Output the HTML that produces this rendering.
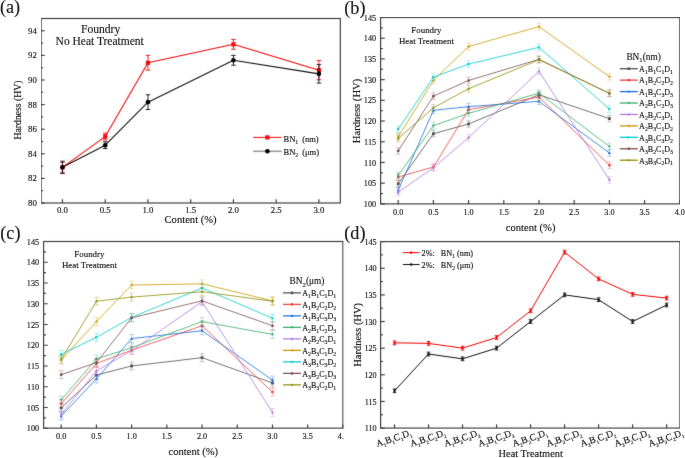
<!DOCTYPE html><html><head><meta charset="utf-8"><style>html,body{margin:0;padding:0;background:#fff;width:685px;height:458px;overflow:hidden}svg{display:block}text{stroke:#111;stroke-width:0.14px}</style></head><body>
<svg width="685" height="458" viewBox="0 0 685 458" font-family="'Liberation Serif', serif" fill="#111">
<defs><filter id="bl" x="0" y="0" width="1" height="1" color-interpolation-filters="sRGB"><feConvolveMatrix order="3" kernelMatrix="0.0081 0.0738 0.0081 0.0738 0.6724 0.0738 0.0081 0.0738 0.0081" divisor="1" edgeMode="none"/></filter></defs><rect width="685" height="458" fill="#fff"/><g filter="url(#bl)">
<rect x="41.1" y="18.5" width="299.2" height="184.5" fill="none" stroke="#3a3a3a" stroke-width="1.15"/>
<line x1="41.1" y1="203" x2="44.7" y2="203" stroke="#3a3a3a" stroke-width="1.15"/>
<line x1="41.1" y1="178.4" x2="44.7" y2="178.4" stroke="#3a3a3a" stroke-width="1.15"/>
<line x1="41.1" y1="153.8" x2="44.7" y2="153.8" stroke="#3a3a3a" stroke-width="1.15"/>
<line x1="41.1" y1="129.2" x2="44.7" y2="129.2" stroke="#3a3a3a" stroke-width="1.15"/>
<line x1="41.1" y1="104.6" x2="44.7" y2="104.6" stroke="#3a3a3a" stroke-width="1.15"/>
<line x1="41.1" y1="80" x2="44.7" y2="80" stroke="#3a3a3a" stroke-width="1.15"/>
<line x1="41.1" y1="55.4" x2="44.7" y2="55.4" stroke="#3a3a3a" stroke-width="1.15"/>
<line x1="41.1" y1="30.8" x2="44.7" y2="30.8" stroke="#3a3a3a" stroke-width="1.15"/>
<line x1="41.1" y1="190.7" x2="43.1" y2="190.7" stroke="#3a3a3a" stroke-width="1.15"/>
<line x1="41.1" y1="166.1" x2="43.1" y2="166.1" stroke="#3a3a3a" stroke-width="1.15"/>
<line x1="41.1" y1="141.5" x2="43.1" y2="141.5" stroke="#3a3a3a" stroke-width="1.15"/>
<line x1="41.1" y1="116.9" x2="43.1" y2="116.9" stroke="#3a3a3a" stroke-width="1.15"/>
<line x1="41.1" y1="92.3" x2="43.1" y2="92.3" stroke="#3a3a3a" stroke-width="1.15"/>
<line x1="41.1" y1="67.7" x2="43.1" y2="67.7" stroke="#3a3a3a" stroke-width="1.15"/>
<line x1="41.1" y1="43.1" x2="43.1" y2="43.1" stroke="#3a3a3a" stroke-width="1.15"/>
<line x1="62.47" y1="203" x2="62.47" y2="199.2" stroke="#3a3a3a" stroke-width="1.15"/>
<line x1="105.21" y1="203" x2="105.21" y2="199.2" stroke="#3a3a3a" stroke-width="1.15"/>
<line x1="147.96" y1="203" x2="147.96" y2="199.2" stroke="#3a3a3a" stroke-width="1.15"/>
<line x1="190.7" y1="203" x2="190.7" y2="199.2" stroke="#3a3a3a" stroke-width="1.15"/>
<line x1="233.44" y1="203" x2="233.44" y2="199.2" stroke="#3a3a3a" stroke-width="1.15"/>
<line x1="276.19" y1="203" x2="276.19" y2="199.2" stroke="#3a3a3a" stroke-width="1.15"/>
<line x1="318.93" y1="203" x2="318.93" y2="199.2" stroke="#3a3a3a" stroke-width="1.15"/>
<polyline points="62.47,167.33 105.21,136.58 147.96,62.78 233.44,44.33 318.93,70.16" fill="none" stroke="#f80808" stroke-width="1.1" stroke-linejoin="round" opacity="1"/>
<polyline points="62.47,167.33 105.21,145.19 147.96,102.14 233.44,60.32 318.93,73.85" fill="none" stroke="#111" stroke-width="1.1" stroke-linejoin="round" opacity="1"/>
<path d="M62.47,162.41V172.25M60.17,162.41h4.6M60.17,172.25h4.6" stroke="#f80808" stroke-width="0.9" fill="none" opacity="1"/>
<rect x="60.37" y="165.23" width="4.2" height="4.2" fill="#f80808"/>
<path d="M105.21,133.26V139.9M102.91,133.26h4.6M102.91,139.9h4.6" stroke="#f80808" stroke-width="0.9" fill="none" opacity="1"/>
<rect x="103.11" y="134.48" width="4.2" height="4.2" fill="#f80808"/>
<path d="M147.96,55.4V70.16M145.66,55.4h4.6M145.66,70.16h4.6" stroke="#f80808" stroke-width="0.9" fill="none" opacity="1"/>
<rect x="145.86" y="60.68" width="4.2" height="4.2" fill="#f80808"/>
<path d="M233.44,39.41V49.25M231.14,39.41h4.6M231.14,49.25h4.6" stroke="#f80808" stroke-width="0.9" fill="none" opacity="1"/>
<rect x="231.34" y="42.23" width="4.2" height="4.2" fill="#f80808"/>
<path d="M318.93,60.57V79.75M316.63,60.57h4.6M316.63,79.75h4.6" stroke="#f80808" stroke-width="0.9" fill="none" opacity="1"/>
<rect x="316.83" y="68.06" width="4.2" height="4.2" fill="#f80808"/>
<path d="M62.47,161.18V173.48M60.17,161.18h4.6M60.17,173.48h4.6" stroke="#111" stroke-width="0.9" fill="none" opacity="1"/>
<circle cx="62.47" cy="167.33" r="2.3" fill="#000"/>
<path d="M105.21,141.75V148.63M102.91,141.75h4.6M102.91,148.63h4.6" stroke="#111" stroke-width="0.9" fill="none" opacity="1"/>
<circle cx="105.21" cy="145.19" r="2.3" fill="#000"/>
<path d="M147.96,94.76V109.52M145.66,94.76h4.6M145.66,109.52h4.6" stroke="#111" stroke-width="0.9" fill="none" opacity="1"/>
<circle cx="147.96" cy="102.14" r="2.3" fill="#000"/>
<path d="M233.44,55.4V65.24M231.14,55.4h4.6M231.14,65.24h4.6" stroke="#111" stroke-width="0.9" fill="none" opacity="1"/>
<circle cx="233.44" cy="60.32" r="2.3" fill="#000"/>
<path d="M318.93,64.62V83.08M316.63,64.62h4.6M316.63,83.08h4.6" stroke="#111" stroke-width="0.9" fill="none" opacity="1"/>
<circle cx="318.93" cy="73.85" r="2.3" fill="#000"/>
<line x1="253.1" y1="137.4" x2="281.6" y2="137.4" stroke="#f80808" stroke-width="1"/>
<rect x="265.3" y="135.3" width="4.2" height="4.2" fill="#f80808"/>
<line x1="253.1" y1="151.3" x2="281.6" y2="151.3" stroke="#9a9a9a" stroke-width="1.6"/>
<circle cx="267.4" cy="151.3" r="2.3" fill="#000"/>
<rect x="380.6" y="17.5" width="299.2" height="186.4" fill="none" stroke="#3a3a3a" stroke-width="1.15"/>
<line x1="380.6" y1="203.9" x2="384.8" y2="203.9" stroke="#3a3a3a" stroke-width="1.15"/>
<line x1="380.6" y1="183.19" x2="384.8" y2="183.19" stroke="#3a3a3a" stroke-width="1.15"/>
<line x1="380.6" y1="162.48" x2="384.8" y2="162.48" stroke="#3a3a3a" stroke-width="1.15"/>
<line x1="380.6" y1="141.77" x2="384.8" y2="141.77" stroke="#3a3a3a" stroke-width="1.15"/>
<line x1="380.6" y1="121.06" x2="384.8" y2="121.06" stroke="#3a3a3a" stroke-width="1.15"/>
<line x1="380.6" y1="100.34" x2="384.8" y2="100.34" stroke="#3a3a3a" stroke-width="1.15"/>
<line x1="380.6" y1="79.63" x2="384.8" y2="79.63" stroke="#3a3a3a" stroke-width="1.15"/>
<line x1="380.6" y1="58.92" x2="384.8" y2="58.92" stroke="#3a3a3a" stroke-width="1.15"/>
<line x1="380.6" y1="38.21" x2="384.8" y2="38.21" stroke="#3a3a3a" stroke-width="1.15"/>
<line x1="380.6" y1="17.5" x2="384.8" y2="17.5" stroke="#3a3a3a" stroke-width="1.15"/>
<line x1="380.6" y1="193.54" x2="382.9" y2="193.54" stroke="#3a3a3a" stroke-width="1.15"/>
<line x1="380.6" y1="172.83" x2="382.9" y2="172.83" stroke="#3a3a3a" stroke-width="1.15"/>
<line x1="380.6" y1="152.12" x2="382.9" y2="152.12" stroke="#3a3a3a" stroke-width="1.15"/>
<line x1="380.6" y1="131.41" x2="382.9" y2="131.41" stroke="#3a3a3a" stroke-width="1.15"/>
<line x1="380.6" y1="110.7" x2="382.9" y2="110.7" stroke="#3a3a3a" stroke-width="1.15"/>
<line x1="380.6" y1="89.99" x2="382.9" y2="89.99" stroke="#3a3a3a" stroke-width="1.15"/>
<line x1="380.6" y1="69.28" x2="382.9" y2="69.28" stroke="#3a3a3a" stroke-width="1.15"/>
<line x1="380.6" y1="48.57" x2="382.9" y2="48.57" stroke="#3a3a3a" stroke-width="1.15"/>
<line x1="380.6" y1="27.86" x2="382.9" y2="27.86" stroke="#3a3a3a" stroke-width="1.15"/>
<line x1="398.2" y1="203.9" x2="398.2" y2="200.1" stroke="#3a3a3a" stroke-width="1.15"/>
<line x1="433.4" y1="203.9" x2="433.4" y2="200.1" stroke="#3a3a3a" stroke-width="1.15"/>
<line x1="468.6" y1="203.9" x2="468.6" y2="200.1" stroke="#3a3a3a" stroke-width="1.15"/>
<line x1="503.8" y1="203.9" x2="503.8" y2="200.1" stroke="#3a3a3a" stroke-width="1.15"/>
<line x1="539" y1="203.9" x2="539" y2="200.1" stroke="#3a3a3a" stroke-width="1.15"/>
<line x1="574.2" y1="203.9" x2="574.2" y2="200.1" stroke="#3a3a3a" stroke-width="1.15"/>
<line x1="609.4" y1="203.9" x2="609.4" y2="200.1" stroke="#3a3a3a" stroke-width="1.15"/>
<line x1="644.6" y1="203.9" x2="644.6" y2="200.1" stroke="#3a3a3a" stroke-width="1.15"/>
<line x1="679.8" y1="203.9" x2="679.8" y2="200.1" stroke="#3a3a3a" stroke-width="1.15"/>
<polyline points="398.2,183.81 433.4,133.69 468.6,123.96 539,94.75 609.4,118.57" fill="none" stroke="#515151" stroke-width="0.8" stroke-linejoin="round" opacity="1"/>
<polyline points="398.2,176.98 433.4,167.03 468.6,109.66 539,97.03 609.4,165.17" fill="none" stroke="#F14040" stroke-width="0.8" stroke-linejoin="round" opacity="1"/>
<polyline points="398.2,190.23 433.4,110.29 468.6,106.68 539,101.34 609.4,152.95" fill="none" stroke="#1A6FDF" stroke-width="0.8" stroke-linejoin="round" opacity="1"/>
<polyline points="398.2,175.53 433.4,125.61 468.6,113.39 539,93.14 609.4,146.53" fill="none" stroke="#37AD6B" stroke-width="0.8" stroke-linejoin="round" opacity="1"/>
<polyline points="398.2,192.3 433.4,167.66 468.6,137.62 539,71.35 609.4,179.88" fill="none" stroke="#B177DE" stroke-width="0.8" stroke-linejoin="round" opacity="1"/>
<polyline points="398.2,136.8 433.4,80.46 468.6,46.5 539,26.61 609.4,76.73" fill="none" stroke="#CC9900" stroke-width="0.8" stroke-linejoin="round" opacity="1"/>
<polyline points="398.2,129.34 433.4,77.15 468.6,64.1 539,47.32 609.4,109.04" fill="none" stroke="#00CBCC" stroke-width="0.8" stroke-linejoin="round" opacity="1"/>
<polyline points="398.2,150.88 433.4,96.2 468.6,80.46 539,59.34 609.4,93.3" fill="none" stroke="#7D4E4E" stroke-width="0.8" stroke-linejoin="round" opacity="1"/>
<polyline points="398.2,138.45 433.4,107.8 468.6,88.75 539,59.75 609.4,93.3" fill="none" stroke="#8E8E00" stroke-width="0.8" stroke-linejoin="round" opacity="1"/>
<path d="M398.2,180.5V187.12M395.9,180.5h4.6M395.9,187.12h4.6" stroke="#515151" stroke-width="0.7" fill="none" opacity="0.45"/>
<rect x="396.8" y="182.41" width="2.8" height="2.8" fill="#515151"/>
<path d="M433.4,130.38V137M431.1,130.38h4.6M431.1,137h4.6" stroke="#515151" stroke-width="0.7" fill="none" opacity="0.45"/>
<rect x="432" y="132.29" width="2.8" height="2.8" fill="#515151"/>
<path d="M468.6,120.64V127.27M466.3,120.64h4.6M466.3,127.27h4.6" stroke="#515151" stroke-width="0.7" fill="none" opacity="0.45"/>
<rect x="467.2" y="122.56" width="2.8" height="2.8" fill="#515151"/>
<path d="M539,91.44V98.07M536.7,91.44h4.6M536.7,98.07h4.6" stroke="#515151" stroke-width="0.7" fill="none" opacity="0.45"/>
<rect x="537.6" y="93.35" width="2.8" height="2.8" fill="#515151"/>
<path d="M609.4,115.26V121.88M607.1,115.26h4.6M607.1,121.88h4.6" stroke="#515151" stroke-width="0.7" fill="none" opacity="0.45"/>
<rect x="608" y="117.17" width="2.8" height="2.8" fill="#515151"/>
<path d="M398.2,173.66V180.29M395.9,173.66h4.6M395.9,180.29h4.6" stroke="#F14040" stroke-width="0.7" fill="none" opacity="0.45"/>
<circle cx="398.2" cy="176.98" r="1.4" fill="#F14040"/>
<path d="M433.4,163.72V170.35M431.1,163.72h4.6M431.1,170.35h4.6" stroke="#F14040" stroke-width="0.7" fill="none" opacity="0.45"/>
<circle cx="433.4" cy="167.03" r="1.4" fill="#F14040"/>
<path d="M468.6,106.35V112.98M466.3,106.35h4.6M466.3,112.98h4.6" stroke="#F14040" stroke-width="0.7" fill="none" opacity="0.45"/>
<circle cx="468.6" cy="109.66" r="1.4" fill="#F14040"/>
<path d="M539,93.72V100.34M536.7,93.72h4.6M536.7,100.34h4.6" stroke="#F14040" stroke-width="0.7" fill="none" opacity="0.45"/>
<circle cx="539" cy="97.03" r="1.4" fill="#F14040"/>
<path d="M609.4,161.86V168.48M607.1,161.86h4.6M607.1,168.48h4.6" stroke="#F14040" stroke-width="0.7" fill="none" opacity="0.45"/>
<circle cx="609.4" cy="165.17" r="1.4" fill="#F14040"/>
<path d="M398.2,186.92V193.54M395.9,186.92h4.6M395.9,193.54h4.6" stroke="#1A6FDF" stroke-width="0.7" fill="none" opacity="0.45"/>
<path d="M398.2,188.55L399.74,191.35L396.66,191.35Z" fill="#1A6FDF"/>
<path d="M433.4,106.97V113.6M431.1,106.97h4.6M431.1,113.6h4.6" stroke="#1A6FDF" stroke-width="0.7" fill="none" opacity="0.45"/>
<path d="M433.4,108.61L434.94,111.41L431.86,111.41Z" fill="#1A6FDF"/>
<path d="M468.6,103.37V110M466.3,103.37h4.6M466.3,110h4.6" stroke="#1A6FDF" stroke-width="0.7" fill="none" opacity="0.45"/>
<path d="M468.6,105L470.14,107.8L467.06,107.8Z" fill="#1A6FDF"/>
<path d="M539,98.02V104.65M536.7,98.02h4.6M536.7,104.65h4.6" stroke="#1A6FDF" stroke-width="0.7" fill="none" opacity="0.45"/>
<path d="M539,99.66L540.54,102.46L537.46,102.46Z" fill="#1A6FDF"/>
<path d="M609.4,149.64V156.26M607.1,149.64h4.6M607.1,156.26h4.6" stroke="#1A6FDF" stroke-width="0.7" fill="none" opacity="0.45"/>
<path d="M609.4,151.27L610.94,154.07L607.86,154.07Z" fill="#1A6FDF"/>
<path d="M398.2,172.21V178.84M395.9,172.21h4.6M395.9,178.84h4.6" stroke="#37AD6B" stroke-width="0.7" fill="none" opacity="0.45"/>
<path d="M398.2,177.21L399.74,174.41L396.66,174.41Z" fill="#37AD6B"/>
<path d="M433.4,122.3V128.93M431.1,122.3h4.6M431.1,128.93h4.6" stroke="#37AD6B" stroke-width="0.7" fill="none" opacity="0.45"/>
<path d="M433.4,127.29L434.94,124.49L431.86,124.49Z" fill="#37AD6B"/>
<path d="M468.6,110.08V116.71M466.3,110.08h4.6M466.3,116.71h4.6" stroke="#37AD6B" stroke-width="0.7" fill="none" opacity="0.45"/>
<path d="M468.6,115.07L470.14,112.27L467.06,112.27Z" fill="#37AD6B"/>
<path d="M539,89.82V96.45M536.7,89.82h4.6M536.7,96.45h4.6" stroke="#37AD6B" stroke-width="0.7" fill="none" opacity="0.45"/>
<path d="M539,94.82L540.54,92.02L537.46,92.02Z" fill="#37AD6B"/>
<path d="M609.4,143.22V149.84M607.1,143.22h4.6M607.1,149.84h4.6" stroke="#37AD6B" stroke-width="0.7" fill="none" opacity="0.45"/>
<path d="M609.4,148.21L610.94,145.41L607.86,145.41Z" fill="#37AD6B"/>
<path d="M398.2,188.99V195.62M395.9,188.99h4.6M395.9,195.62h4.6" stroke="#B177DE" stroke-width="0.7" fill="none" opacity="0.45"/>
<path d="M398.2,190.62L399.6,192.3L398.2,193.98L396.8,192.3Z" fill="#B177DE"/>
<path d="M433.4,164.34V170.97M431.1,164.34h4.6M431.1,170.97h4.6" stroke="#B177DE" stroke-width="0.7" fill="none" opacity="0.45"/>
<path d="M433.4,165.98L434.8,167.66L433.4,169.34L432,167.66Z" fill="#B177DE"/>
<path d="M468.6,134.31V140.94M466.3,134.31h4.6M466.3,140.94h4.6" stroke="#B177DE" stroke-width="0.7" fill="none" opacity="0.45"/>
<path d="M468.6,135.94L470,137.62L468.6,139.3L467.2,137.62Z" fill="#B177DE"/>
<path d="M539,68.04V74.66M536.7,68.04h4.6M536.7,74.66h4.6" stroke="#B177DE" stroke-width="0.7" fill="none" opacity="0.45"/>
<path d="M539,69.67L540.4,71.35L539,73.03L537.6,71.35Z" fill="#B177DE"/>
<path d="M609.4,176.56V183.19M607.1,176.56h4.6M607.1,183.19h4.6" stroke="#B177DE" stroke-width="0.7" fill="none" opacity="0.45"/>
<path d="M609.4,178.2L610.8,179.88L609.4,181.56L608,179.88Z" fill="#B177DE"/>
<path d="M398.2,133.48V140.11M395.9,133.48h4.6M395.9,140.11h4.6" stroke="#CC9900" stroke-width="0.7" fill="none" opacity="0.45"/>
<path d="M396.52,136.8L399.32,135.26L399.32,138.34Z" fill="#CC9900"/>
<path d="M433.4,77.15V83.78M431.1,77.15h4.6M431.1,83.78h4.6" stroke="#CC9900" stroke-width="0.7" fill="none" opacity="0.45"/>
<path d="M431.72,80.46L434.52,78.92L434.52,82Z" fill="#CC9900"/>
<path d="M468.6,43.18V49.81M466.3,43.18h4.6M466.3,49.81h4.6" stroke="#CC9900" stroke-width="0.7" fill="none" opacity="0.45"/>
<path d="M466.92,46.5L469.72,44.96L469.72,48.04Z" fill="#CC9900"/>
<path d="M539,23.3V29.93M536.7,23.3h4.6M536.7,29.93h4.6" stroke="#CC9900" stroke-width="0.7" fill="none" opacity="0.45"/>
<path d="M537.32,26.61L540.12,25.07L540.12,28.15Z" fill="#CC9900"/>
<path d="M609.4,73.42V80.05M607.1,73.42h4.6M607.1,80.05h4.6" stroke="#CC9900" stroke-width="0.7" fill="none" opacity="0.45"/>
<path d="M607.72,76.73L610.52,75.19L610.52,78.27Z" fill="#CC9900"/>
<path d="M398.2,126.03V132.65M395.9,126.03h4.6M395.9,132.65h4.6" stroke="#00CBCC" stroke-width="0.7" fill="none" opacity="0.45"/>
<path d="M399.88,129.34L397.08,127.8L397.08,130.88Z" fill="#00CBCC"/>
<path d="M433.4,73.83V80.46M431.1,73.83h4.6M431.1,80.46h4.6" stroke="#00CBCC" stroke-width="0.7" fill="none" opacity="0.45"/>
<path d="M435.08,77.15L432.28,75.61L432.28,78.69Z" fill="#00CBCC"/>
<path d="M468.6,60.79V67.41M466.3,60.79h4.6M466.3,67.41h4.6" stroke="#00CBCC" stroke-width="0.7" fill="none" opacity="0.45"/>
<path d="M470.28,64.1L467.48,62.56L467.48,65.64Z" fill="#00CBCC"/>
<path d="M539,44.01V50.64M536.7,44.01h4.6M536.7,50.64h4.6" stroke="#00CBCC" stroke-width="0.7" fill="none" opacity="0.45"/>
<path d="M540.68,47.32L537.88,45.78L537.88,48.86Z" fill="#00CBCC"/>
<path d="M609.4,105.73V112.36M607.1,105.73h4.6M607.1,112.36h4.6" stroke="#00CBCC" stroke-width="0.7" fill="none" opacity="0.45"/>
<path d="M611.08,109.04L608.28,107.5L608.28,110.58Z" fill="#00CBCC"/>
<path d="M398.2,147.57V154.19M395.9,147.57h4.6M395.9,154.19h4.6" stroke="#7D4E4E" stroke-width="0.7" fill="none" opacity="0.45"/>
<polygon points="399.74,150.88 398.97,152.21 397.43,152.21 396.66,150.88 397.43,149.55 398.97,149.55" fill="#7D4E4E"/>
<path d="M433.4,92.89V99.52M431.1,92.89h4.6M431.1,99.52h4.6" stroke="#7D4E4E" stroke-width="0.7" fill="none" opacity="0.45"/>
<polygon points="434.94,96.2 434.17,97.54 432.63,97.54 431.86,96.2 432.63,94.87 434.17,94.87" fill="#7D4E4E"/>
<path d="M468.6,77.15V83.78M466.3,77.15h4.6M466.3,83.78h4.6" stroke="#7D4E4E" stroke-width="0.7" fill="none" opacity="0.45"/>
<polygon points="470.14,80.46 469.37,81.8 467.83,81.8 467.06,80.46 467.83,79.13 469.37,79.13" fill="#7D4E4E"/>
<path d="M539,56.02V62.65M536.7,56.02h4.6M536.7,62.65h4.6" stroke="#7D4E4E" stroke-width="0.7" fill="none" opacity="0.45"/>
<polygon points="540.54,59.34 539.77,60.67 538.23,60.67 537.46,59.34 538.23,58 539.77,58" fill="#7D4E4E"/>
<path d="M609.4,89.99V96.62M607.1,89.99h4.6M607.1,96.62h4.6" stroke="#7D4E4E" stroke-width="0.7" fill="none" opacity="0.45"/>
<polygon points="610.94,93.3 610.17,94.64 608.63,94.64 607.86,93.3 608.63,91.97 610.17,91.97" fill="#7D4E4E"/>
<path d="M398.2,135.14V141.77M395.9,135.14h4.6M395.9,141.77h4.6" stroke="#8E8E00" stroke-width="0.7" fill="none" opacity="0.45"/>
<polygon points="398.2,136.63 398.66,137.82 399.93,137.89 398.95,138.7 399.27,139.93 398.2,139.24 397.13,139.93 397.45,138.7 396.47,137.89 397.74,137.82" fill="#8E8E00"/>
<path d="M433.4,104.49V111.11M431.1,104.49h4.6M431.1,111.11h4.6" stroke="#8E8E00" stroke-width="0.7" fill="none" opacity="0.45"/>
<polygon points="433.4,105.98 433.86,107.17 435.13,107.24 434.15,108.04 434.47,109.27 433.4,108.58 432.33,109.27 432.65,108.04 431.67,107.24 432.94,107.17" fill="#8E8E00"/>
<path d="M468.6,85.43V92.06M466.3,85.43h4.6M466.3,92.06h4.6" stroke="#8E8E00" stroke-width="0.7" fill="none" opacity="0.45"/>
<polygon points="468.6,86.93 469.06,88.11 470.33,88.18 469.35,88.99 469.67,90.22 468.6,89.53 467.53,90.22 467.85,88.99 466.87,88.18 468.14,88.11" fill="#8E8E00"/>
<path d="M539,56.44V63.06M536.7,56.44h4.6M536.7,63.06h4.6" stroke="#8E8E00" stroke-width="0.7" fill="none" opacity="0.45"/>
<polygon points="539,57.93 539.46,59.12 540.73,59.19 539.75,59.99 540.07,61.22 539,60.53 537.93,61.22 538.25,59.99 537.27,59.19 538.54,59.12" fill="#8E8E00"/>
<path d="M609.4,89.99V96.62M607.1,89.99h4.6M607.1,96.62h4.6" stroke="#8E8E00" stroke-width="0.7" fill="none" opacity="0.45"/>
<polygon points="609.4,91.48 609.86,92.67 611.13,92.74 610.15,93.54 610.47,94.78 609.4,94.09 608.33,94.78 608.65,93.54 607.67,92.74 608.94,92.67" fill="#8E8E00"/>
<line x1="619.8" y1="68.7" x2="637.8" y2="68.7" stroke="#515151" stroke-width="1.3"/>
<rect x="627.5" y="67.4" width="2.6" height="2.6" fill="#515151"/>
<line x1="619.8" y1="80.14" x2="637.8" y2="80.14" stroke="#F14040" stroke-width="1.3"/>
<circle cx="628.8" cy="80.14" r="1.3" fill="#F14040"/>
<line x1="619.8" y1="91.58" x2="637.8" y2="91.58" stroke="#1A6FDF" stroke-width="1.3"/>
<path d="M628.8,90.02L630.23,92.62L627.37,92.62Z" fill="#1A6FDF"/>
<line x1="619.8" y1="103.02" x2="637.8" y2="103.02" stroke="#37AD6B" stroke-width="1.3"/>
<path d="M628.8,104.58L630.23,101.98L627.37,101.98Z" fill="#37AD6B"/>
<line x1="619.8" y1="114.46" x2="637.8" y2="114.46" stroke="#B177DE" stroke-width="1.3"/>
<path d="M628.8,112.9L630.1,114.46L628.8,116.02L627.5,114.46Z" fill="#B177DE"/>
<line x1="619.8" y1="125.9" x2="637.8" y2="125.9" stroke="#CC9900" stroke-width="1.3"/>
<path d="M627.24,125.9L629.84,124.47L629.84,127.33Z" fill="#CC9900"/>
<line x1="619.8" y1="137.34" x2="637.8" y2="137.34" stroke="#00CBCC" stroke-width="1.3"/>
<path d="M630.36,137.34L627.76,135.91L627.76,138.77Z" fill="#00CBCC"/>
<line x1="619.8" y1="148.78" x2="637.8" y2="148.78" stroke="#7D4E4E" stroke-width="1.3"/>
<polygon points="630.23,148.78 629.51,150.02 628.08,150.02 627.37,148.78 628.08,147.54 629.51,147.54" fill="#7D4E4E"/>
<line x1="619.8" y1="160.22" x2="637.8" y2="160.22" stroke="#8E8E00" stroke-width="1.3"/>
<polygon points="628.8,158.53 629.23,159.63 630.41,159.7 629.49,160.44 629.79,161.59 628.8,160.95 627.81,161.59 628.11,160.44 627.19,159.7 628.37,159.63" fill="#8E8E00"/>
<clipPath id="cc"><rect x="0" y="220" width="343.7" height="240"/></clipPath><g clip-path="url(#cc)">
<rect x="43.6" y="241.5" width="299.3" height="186.7" fill="none" stroke="#3a3a3a" stroke-width="1.15"/>
<line x1="43.6" y1="428.2" x2="47.8" y2="428.2" stroke="#3a3a3a" stroke-width="1.15"/>
<line x1="43.6" y1="407.46" x2="47.8" y2="407.46" stroke="#3a3a3a" stroke-width="1.15"/>
<line x1="43.6" y1="386.71" x2="47.8" y2="386.71" stroke="#3a3a3a" stroke-width="1.15"/>
<line x1="43.6" y1="365.97" x2="47.8" y2="365.97" stroke="#3a3a3a" stroke-width="1.15"/>
<line x1="43.6" y1="345.22" x2="47.8" y2="345.22" stroke="#3a3a3a" stroke-width="1.15"/>
<line x1="43.6" y1="324.48" x2="47.8" y2="324.48" stroke="#3a3a3a" stroke-width="1.15"/>
<line x1="43.6" y1="303.73" x2="47.8" y2="303.73" stroke="#3a3a3a" stroke-width="1.15"/>
<line x1="43.6" y1="282.99" x2="47.8" y2="282.99" stroke="#3a3a3a" stroke-width="1.15"/>
<line x1="43.6" y1="262.24" x2="47.8" y2="262.24" stroke="#3a3a3a" stroke-width="1.15"/>
<line x1="43.6" y1="241.5" x2="47.8" y2="241.5" stroke="#3a3a3a" stroke-width="1.15"/>
<line x1="43.6" y1="417.83" x2="45.9" y2="417.83" stroke="#3a3a3a" stroke-width="1.15"/>
<line x1="43.6" y1="397.08" x2="45.9" y2="397.08" stroke="#3a3a3a" stroke-width="1.15"/>
<line x1="43.6" y1="376.34" x2="45.9" y2="376.34" stroke="#3a3a3a" stroke-width="1.15"/>
<line x1="43.6" y1="355.59" x2="45.9" y2="355.59" stroke="#3a3a3a" stroke-width="1.15"/>
<line x1="43.6" y1="334.85" x2="45.9" y2="334.85" stroke="#3a3a3a" stroke-width="1.15"/>
<line x1="43.6" y1="314.11" x2="45.9" y2="314.11" stroke="#3a3a3a" stroke-width="1.15"/>
<line x1="43.6" y1="293.36" x2="45.9" y2="293.36" stroke="#3a3a3a" stroke-width="1.15"/>
<line x1="43.6" y1="272.62" x2="45.9" y2="272.62" stroke="#3a3a3a" stroke-width="1.15"/>
<line x1="43.6" y1="251.87" x2="45.9" y2="251.87" stroke="#3a3a3a" stroke-width="1.15"/>
<line x1="61.21" y1="428.2" x2="61.21" y2="424.4" stroke="#3a3a3a" stroke-width="1.15"/>
<line x1="96.42" y1="428.2" x2="96.42" y2="424.4" stroke="#3a3a3a" stroke-width="1.15"/>
<line x1="131.63" y1="428.2" x2="131.63" y2="424.4" stroke="#3a3a3a" stroke-width="1.15"/>
<line x1="166.84" y1="428.2" x2="166.84" y2="424.4" stroke="#3a3a3a" stroke-width="1.15"/>
<line x1="202.05" y1="428.2" x2="202.05" y2="424.4" stroke="#3a3a3a" stroke-width="1.15"/>
<line x1="237.26" y1="428.2" x2="237.26" y2="424.4" stroke="#3a3a3a" stroke-width="1.15"/>
<line x1="272.48" y1="428.2" x2="272.48" y2="424.4" stroke="#3a3a3a" stroke-width="1.15"/>
<line x1="307.69" y1="428.2" x2="307.69" y2="424.4" stroke="#3a3a3a" stroke-width="1.15"/>
<line x1="342.9" y1="428.2" x2="342.9" y2="424.4" stroke="#3a3a3a" stroke-width="1.15"/>
<polyline points="61.21,407.87 96.42,375.09 131.63,365.97 202.05,357.67 272.48,382.98" fill="none" stroke="#515151" stroke-width="0.8" stroke-linejoin="round" opacity="1"/>
<polyline points="61.21,403.72 96.42,363.48 131.63,350.2 202.05,325.72 272.48,392.1" fill="none" stroke="#F14040" stroke-width="0.8" stroke-linejoin="round" opacity="1"/>
<polyline points="61.21,416.17 96.42,378.83 131.63,338.58 202.05,330.7 272.48,380.07" fill="none" stroke="#1A6FDF" stroke-width="0.8" stroke-linejoin="round" opacity="1"/>
<polyline points="61.21,399.99 96.42,358.91 131.63,347.71 202.05,321.57 272.48,334.44" fill="none" stroke="#37AD6B" stroke-width="0.8" stroke-linejoin="round" opacity="1"/>
<polyline points="61.21,414.51 96.42,370.95 131.63,350.62 202.05,301.66 272.48,412.43" fill="none" stroke="#B177DE" stroke-width="0.8" stroke-linejoin="round" opacity="1"/>
<polyline points="61.21,360.16 96.42,321.57 131.63,285.06 202.05,283.82 272.48,300.83" fill="none" stroke="#CC9900" stroke-width="0.8" stroke-linejoin="round" opacity="1"/>
<polyline points="61.21,354.35 96.42,337.34 131.63,317.42 202.05,287.97 272.48,318.25" fill="none" stroke="#00CBCC" stroke-width="0.8" stroke-linejoin="round" opacity="1"/>
<polyline points="61.21,374.68 96.42,362.65 131.63,317.84 202.05,300.83 272.48,325.72" fill="none" stroke="#7D4E4E" stroke-width="0.8" stroke-linejoin="round" opacity="1"/>
<polyline points="61.21,359.33 96.42,301.24 131.63,297.1 202.05,291.7 272.48,301.24" fill="none" stroke="#8E8E00" stroke-width="0.8" stroke-linejoin="round" opacity="1"/>
<path d="M61.21,403.93V411.81M58.61,403.93h5.2M58.61,411.81h5.2" stroke="#515151" stroke-width="0.7" fill="none" opacity="0.45"/>
<rect x="59.81" y="406.47" width="2.8" height="2.8" fill="#515151"/>
<path d="M96.42,371.15V379.04M93.82,371.15h5.2M93.82,379.04h5.2" stroke="#515151" stroke-width="0.7" fill="none" opacity="0.45"/>
<rect x="95.02" y="373.69" width="2.8" height="2.8" fill="#515151"/>
<path d="M131.63,362.03V369.91M129.03,362.03h5.2M129.03,369.91h5.2" stroke="#515151" stroke-width="0.7" fill="none" opacity="0.45"/>
<rect x="130.23" y="364.57" width="2.8" height="2.8" fill="#515151"/>
<path d="M202.05,353.73V361.61M199.45,353.73h5.2M199.45,361.61h5.2" stroke="#515151" stroke-width="0.7" fill="none" opacity="0.45"/>
<rect x="200.65" y="356.27" width="2.8" height="2.8" fill="#515151"/>
<path d="M272.48,379.04V386.92M269.88,379.04h5.2M269.88,386.92h5.2" stroke="#515151" stroke-width="0.7" fill="none" opacity="0.45"/>
<rect x="271.08" y="381.58" width="2.8" height="2.8" fill="#515151"/>
<path d="M61.21,399.78V407.66M58.61,399.78h5.2M58.61,407.66h5.2" stroke="#F14040" stroke-width="0.7" fill="none" opacity="0.45"/>
<circle cx="61.21" cy="403.72" r="1.4" fill="#F14040"/>
<path d="M96.42,359.54V367.42M93.82,359.54h5.2M93.82,367.42h5.2" stroke="#F14040" stroke-width="0.7" fill="none" opacity="0.45"/>
<circle cx="96.42" cy="363.48" r="1.4" fill="#F14040"/>
<path d="M131.63,346.26V354.14M129.03,346.26h5.2M129.03,354.14h5.2" stroke="#F14040" stroke-width="0.7" fill="none" opacity="0.45"/>
<circle cx="131.63" cy="350.2" r="1.4" fill="#F14040"/>
<path d="M202.05,321.78V329.66M199.45,321.78h5.2M199.45,329.66h5.2" stroke="#F14040" stroke-width="0.7" fill="none" opacity="0.45"/>
<circle cx="202.05" cy="325.72" r="1.4" fill="#F14040"/>
<path d="M272.48,388.16V396.05M269.88,388.16h5.2M269.88,396.05h5.2" stroke="#F14040" stroke-width="0.7" fill="none" opacity="0.45"/>
<circle cx="272.48" cy="392.1" r="1.4" fill="#F14040"/>
<path d="M61.21,412.23V420.11M58.61,412.23h5.2M58.61,420.11h5.2" stroke="#1A6FDF" stroke-width="0.7" fill="none" opacity="0.45"/>
<path d="M61.21,414.49L62.75,417.29L59.67,417.29Z" fill="#1A6FDF"/>
<path d="M96.42,374.89V382.77M93.82,374.89h5.2M93.82,382.77h5.2" stroke="#1A6FDF" stroke-width="0.7" fill="none" opacity="0.45"/>
<path d="M96.42,377.15L97.96,379.95L94.88,379.95Z" fill="#1A6FDF"/>
<path d="M131.63,334.64V342.53M129.03,334.64h5.2M129.03,342.53h5.2" stroke="#1A6FDF" stroke-width="0.7" fill="none" opacity="0.45"/>
<path d="M131.63,336.9L133.17,339.7L130.09,339.7Z" fill="#1A6FDF"/>
<path d="M202.05,326.76V334.64M199.45,326.76h5.2M199.45,334.64h5.2" stroke="#1A6FDF" stroke-width="0.7" fill="none" opacity="0.45"/>
<path d="M202.05,329.02L203.59,331.82L200.51,331.82Z" fill="#1A6FDF"/>
<path d="M272.48,376.13V384.01M269.88,376.13h5.2M269.88,384.01h5.2" stroke="#1A6FDF" stroke-width="0.7" fill="none" opacity="0.45"/>
<path d="M272.48,378.39L274.02,381.19L270.94,381.19Z" fill="#1A6FDF"/>
<path d="M61.21,396.05V403.93M58.61,396.05h5.2M58.61,403.93h5.2" stroke="#37AD6B" stroke-width="0.7" fill="none" opacity="0.45"/>
<path d="M61.21,401.67L62.75,398.87L59.67,398.87Z" fill="#37AD6B"/>
<path d="M96.42,354.97V362.86M93.82,354.97h5.2M93.82,362.86h5.2" stroke="#37AD6B" stroke-width="0.7" fill="none" opacity="0.45"/>
<path d="M96.42,360.59L97.96,357.79L94.88,357.79Z" fill="#37AD6B"/>
<path d="M131.63,343.77V351.65M129.03,343.77h5.2M129.03,351.65h5.2" stroke="#37AD6B" stroke-width="0.7" fill="none" opacity="0.45"/>
<path d="M131.63,349.39L133.17,346.59L130.09,346.59Z" fill="#37AD6B"/>
<path d="M202.05,317.63V325.51M199.45,317.63h5.2M199.45,325.51h5.2" stroke="#37AD6B" stroke-width="0.7" fill="none" opacity="0.45"/>
<path d="M202.05,323.25L203.59,320.45L200.51,320.45Z" fill="#37AD6B"/>
<path d="M272.48,330.49V338.38M269.88,330.49h5.2M269.88,338.38h5.2" stroke="#37AD6B" stroke-width="0.7" fill="none" opacity="0.45"/>
<path d="M272.48,336.12L274.02,333.32L270.94,333.32Z" fill="#37AD6B"/>
<path d="M61.21,410.57V418.45M58.61,410.57h5.2M58.61,418.45h5.2" stroke="#B177DE" stroke-width="0.7" fill="none" opacity="0.45"/>
<path d="M61.21,412.83L62.61,414.51L61.21,416.19L59.81,414.51Z" fill="#B177DE"/>
<path d="M96.42,367V374.89M93.82,367h5.2M93.82,374.89h5.2" stroke="#B177DE" stroke-width="0.7" fill="none" opacity="0.45"/>
<path d="M96.42,369.27L97.82,370.95L96.42,372.63L95.02,370.95Z" fill="#B177DE"/>
<path d="M131.63,346.67V354.56M129.03,346.67h5.2M129.03,354.56h5.2" stroke="#B177DE" stroke-width="0.7" fill="none" opacity="0.45"/>
<path d="M131.63,348.94L133.03,350.62L131.63,352.3L130.23,350.62Z" fill="#B177DE"/>
<path d="M202.05,297.72V305.6M199.45,297.72h5.2M199.45,305.6h5.2" stroke="#B177DE" stroke-width="0.7" fill="none" opacity="0.45"/>
<path d="M202.05,299.98L203.45,301.66L202.05,303.34L200.65,301.66Z" fill="#B177DE"/>
<path d="M272.48,408.49V416.38M269.88,408.49h5.2M269.88,416.38h5.2" stroke="#B177DE" stroke-width="0.7" fill="none" opacity="0.45"/>
<path d="M272.48,410.75L273.88,412.43L272.48,414.11L271.08,412.43Z" fill="#B177DE"/>
<path d="M61.21,356.22V364.1M58.61,356.22h5.2M58.61,364.1h5.2" stroke="#CC9900" stroke-width="0.7" fill="none" opacity="0.45"/>
<path d="M59.53,360.16L62.33,358.62L62.33,361.7Z" fill="#CC9900"/>
<path d="M96.42,317.63V325.51M93.82,317.63h5.2M93.82,325.51h5.2" stroke="#CC9900" stroke-width="0.7" fill="none" opacity="0.45"/>
<path d="M94.74,321.57L97.54,320.03L97.54,323.11Z" fill="#CC9900"/>
<path d="M131.63,281.12V289M129.03,281.12h5.2M129.03,289h5.2" stroke="#CC9900" stroke-width="0.7" fill="none" opacity="0.45"/>
<path d="M129.95,285.06L132.75,283.52L132.75,286.6Z" fill="#CC9900"/>
<path d="M202.05,279.88V287.76M199.45,279.88h5.2M199.45,287.76h5.2" stroke="#CC9900" stroke-width="0.7" fill="none" opacity="0.45"/>
<path d="M200.37,283.82L203.17,282.28L203.17,285.36Z" fill="#CC9900"/>
<path d="M272.48,296.89V304.77M269.88,296.89h5.2M269.88,304.77h5.2" stroke="#CC9900" stroke-width="0.7" fill="none" opacity="0.45"/>
<path d="M270.8,300.83L273.6,299.29L273.6,302.37Z" fill="#CC9900"/>
<path d="M61.21,350.41V358.29M58.61,350.41h5.2M58.61,358.29h5.2" stroke="#00CBCC" stroke-width="0.7" fill="none" opacity="0.45"/>
<path d="M62.89,354.35L60.09,352.81L60.09,355.89Z" fill="#00CBCC"/>
<path d="M96.42,333.4V341.28M93.82,333.4h5.2M93.82,341.28h5.2" stroke="#00CBCC" stroke-width="0.7" fill="none" opacity="0.45"/>
<path d="M98.1,337.34L95.3,335.8L95.3,338.88Z" fill="#00CBCC"/>
<path d="M131.63,313.48V321.37M129.03,313.48h5.2M129.03,321.37h5.2" stroke="#00CBCC" stroke-width="0.7" fill="none" opacity="0.45"/>
<path d="M133.31,317.42L130.51,315.88L130.51,318.96Z" fill="#00CBCC"/>
<path d="M202.05,284.03V291.91M199.45,284.03h5.2M199.45,291.91h5.2" stroke="#00CBCC" stroke-width="0.7" fill="none" opacity="0.45"/>
<path d="M203.73,287.97L200.93,286.43L200.93,289.51Z" fill="#00CBCC"/>
<path d="M272.48,314.31V322.2M269.88,314.31h5.2M269.88,322.2h5.2" stroke="#00CBCC" stroke-width="0.7" fill="none" opacity="0.45"/>
<path d="M274.16,318.25L271.36,316.71L271.36,319.79Z" fill="#00CBCC"/>
<path d="M61.21,370.74V378.62M58.61,370.74h5.2M58.61,378.62h5.2" stroke="#7D4E4E" stroke-width="0.7" fill="none" opacity="0.45"/>
<polygon points="62.75,374.68 61.98,376.01 60.44,376.01 59.67,374.68 60.44,373.35 61.98,373.35" fill="#7D4E4E"/>
<path d="M96.42,358.71V366.59M93.82,358.71h5.2M93.82,366.59h5.2" stroke="#7D4E4E" stroke-width="0.7" fill="none" opacity="0.45"/>
<polygon points="97.96,362.65 97.19,363.98 95.65,363.98 94.88,362.65 95.65,361.31 97.19,361.31" fill="#7D4E4E"/>
<path d="M131.63,313.9V321.78M129.03,313.9h5.2M129.03,321.78h5.2" stroke="#7D4E4E" stroke-width="0.7" fill="none" opacity="0.45"/>
<polygon points="133.17,317.84 132.4,319.17 130.86,319.17 130.09,317.84 130.86,316.51 132.4,316.51" fill="#7D4E4E"/>
<path d="M202.05,296.89V304.77M199.45,296.89h5.2M199.45,304.77h5.2" stroke="#7D4E4E" stroke-width="0.7" fill="none" opacity="0.45"/>
<polygon points="203.59,300.83 202.82,302.16 201.28,302.16 200.51,300.83 201.28,299.5 202.82,299.5" fill="#7D4E4E"/>
<path d="M272.48,321.78V329.66M269.88,321.78h5.2M269.88,329.66h5.2" stroke="#7D4E4E" stroke-width="0.7" fill="none" opacity="0.45"/>
<polygon points="274.02,325.72 273.25,327.06 271.71,327.06 270.94,325.72 271.71,324.39 273.25,324.39" fill="#7D4E4E"/>
<path d="M61.21,355.39V363.27M58.61,355.39h5.2M58.61,363.27h5.2" stroke="#8E8E00" stroke-width="0.7" fill="none" opacity="0.45"/>
<polygon points="61.21,357.51 61.67,358.69 62.94,358.77 61.95,359.57 62.28,360.8 61.21,360.11 60.14,360.8 60.46,359.57 59.47,358.77 60.75,358.69" fill="#8E8E00"/>
<path d="M96.42,297.3V305.19M93.82,297.3h5.2M93.82,305.19h5.2" stroke="#8E8E00" stroke-width="0.7" fill="none" opacity="0.45"/>
<polygon points="96.42,299.42 96.88,300.61 98.15,300.68 97.16,301.49 97.49,302.72 96.42,302.03 95.35,302.72 95.67,301.49 94.69,300.68 95.96,300.61" fill="#8E8E00"/>
<path d="M131.63,293.15V301.04M129.03,293.15h5.2M129.03,301.04h5.2" stroke="#8E8E00" stroke-width="0.7" fill="none" opacity="0.45"/>
<polygon points="131.63,295.28 132.09,296.46 133.36,296.53 132.38,297.34 132.7,298.57 131.63,297.88 130.56,298.57 130.88,297.34 129.9,296.53 131.17,296.46" fill="#8E8E00"/>
<path d="M202.05,287.76V295.64M199.45,287.76h5.2M199.45,295.64h5.2" stroke="#8E8E00" stroke-width="0.7" fill="none" opacity="0.45"/>
<polygon points="202.05,289.88 202.51,291.07 203.78,291.14 202.8,291.94 203.12,293.17 202.05,292.49 200.98,293.17 201.31,291.94 200.32,291.14 201.59,291.07" fill="#8E8E00"/>
<path d="M272.48,297.3V305.19M269.88,297.3h5.2M269.88,305.19h5.2" stroke="#8E8E00" stroke-width="0.7" fill="none" opacity="0.45"/>
<polygon points="272.48,299.42 272.94,300.61 274.21,300.68 273.22,301.49 273.55,302.72 272.48,302.03 271.41,302.72 271.73,301.49 270.75,300.68 272.02,300.61" fill="#8E8E00"/>
<line x1="283" y1="292.9" x2="301" y2="292.9" stroke="#515151" stroke-width="1.3"/>
<rect x="290.7" y="291.6" width="2.6" height="2.6" fill="#515151"/>
<line x1="283" y1="304.4" x2="301" y2="304.4" stroke="#F14040" stroke-width="1.3"/>
<circle cx="292" cy="304.4" r="1.3" fill="#F14040"/>
<line x1="283" y1="315.9" x2="301" y2="315.9" stroke="#1A6FDF" stroke-width="1.3"/>
<path d="M292,314.34L293.43,316.94L290.57,316.94Z" fill="#1A6FDF"/>
<line x1="283" y1="327.4" x2="301" y2="327.4" stroke="#37AD6B" stroke-width="1.3"/>
<path d="M292,328.96L293.43,326.36L290.57,326.36Z" fill="#37AD6B"/>
<line x1="283" y1="338.9" x2="301" y2="338.9" stroke="#B177DE" stroke-width="1.3"/>
<path d="M292,337.34L293.3,338.9L292,340.46L290.7,338.9Z" fill="#B177DE"/>
<line x1="283" y1="350.4" x2="301" y2="350.4" stroke="#CC9900" stroke-width="1.3"/>
<path d="M290.44,350.4L293.04,348.97L293.04,351.83Z" fill="#CC9900"/>
<line x1="283" y1="361.9" x2="301" y2="361.9" stroke="#00CBCC" stroke-width="1.3"/>
<path d="M293.56,361.9L290.96,360.47L290.96,363.33Z" fill="#00CBCC"/>
<line x1="283" y1="373.4" x2="301" y2="373.4" stroke="#7D4E4E" stroke-width="1.3"/>
<polygon points="293.43,373.4 292.71,374.64 291.29,374.64 290.57,373.4 291.29,372.16 292.71,372.16" fill="#7D4E4E"/>
<line x1="283" y1="384.9" x2="301" y2="384.9" stroke="#8E8E00" stroke-width="1.3"/>
<polygon points="292,383.21 292.43,384.31 293.61,384.38 292.69,385.12 292.99,386.27 292,385.63 291.01,386.27 291.31,385.12 290.39,384.38 291.57,384.31" fill="#8E8E00"/>
</g>
<rect x="380.6" y="241.6" width="299.3" height="186.5" fill="none" stroke="#3a3a3a" stroke-width="1.15"/>
<line x1="380.6" y1="428.1" x2="384.8" y2="428.1" stroke="#3a3a3a" stroke-width="1.15"/>
<line x1="380.6" y1="401.46" x2="384.8" y2="401.46" stroke="#3a3a3a" stroke-width="1.15"/>
<line x1="380.6" y1="374.81" x2="384.8" y2="374.81" stroke="#3a3a3a" stroke-width="1.15"/>
<line x1="380.6" y1="348.17" x2="384.8" y2="348.17" stroke="#3a3a3a" stroke-width="1.15"/>
<line x1="380.6" y1="321.53" x2="384.8" y2="321.53" stroke="#3a3a3a" stroke-width="1.15"/>
<line x1="380.6" y1="294.89" x2="384.8" y2="294.89" stroke="#3a3a3a" stroke-width="1.15"/>
<line x1="380.6" y1="268.24" x2="384.8" y2="268.24" stroke="#3a3a3a" stroke-width="1.15"/>
<line x1="380.6" y1="241.6" x2="384.8" y2="241.6" stroke="#3a3a3a" stroke-width="1.15"/>
<line x1="380.6" y1="414.78" x2="382.9" y2="414.78" stroke="#3a3a3a" stroke-width="1.15"/>
<line x1="380.6" y1="388.14" x2="382.9" y2="388.14" stroke="#3a3a3a" stroke-width="1.15"/>
<line x1="380.6" y1="361.49" x2="382.9" y2="361.49" stroke="#3a3a3a" stroke-width="1.15"/>
<line x1="380.6" y1="334.85" x2="382.9" y2="334.85" stroke="#3a3a3a" stroke-width="1.15"/>
<line x1="380.6" y1="308.21" x2="382.9" y2="308.21" stroke="#3a3a3a" stroke-width="1.15"/>
<line x1="380.6" y1="281.56" x2="382.9" y2="281.56" stroke="#3a3a3a" stroke-width="1.15"/>
<line x1="380.6" y1="254.92" x2="382.9" y2="254.92" stroke="#3a3a3a" stroke-width="1.15"/>
<line x1="394.5" y1="428.1" x2="394.5" y2="424.3" stroke="#3a3a3a" stroke-width="1.15"/>
<line x1="428.52" y1="428.1" x2="428.52" y2="424.3" stroke="#3a3a3a" stroke-width="1.15"/>
<line x1="462.54" y1="428.1" x2="462.54" y2="424.3" stroke="#3a3a3a" stroke-width="1.15"/>
<line x1="496.56" y1="428.1" x2="496.56" y2="424.3" stroke="#3a3a3a" stroke-width="1.15"/>
<line x1="530.58" y1="428.1" x2="530.58" y2="424.3" stroke="#3a3a3a" stroke-width="1.15"/>
<line x1="564.6" y1="428.1" x2="564.6" y2="424.3" stroke="#3a3a3a" stroke-width="1.15"/>
<line x1="598.62" y1="428.1" x2="598.62" y2="424.3" stroke="#3a3a3a" stroke-width="1.15"/>
<line x1="632.64" y1="428.1" x2="632.64" y2="424.3" stroke="#3a3a3a" stroke-width="1.15"/>
<line x1="666.66" y1="428.1" x2="666.66" y2="424.3" stroke="#3a3a3a" stroke-width="1.15"/>
<polyline points="394.5,342.84 428.52,343.38 462.54,348.17 496.56,337.51 530.58,310.87 564.6,252.26 598.62,278.9 632.64,294.35 666.66,298.08" fill="none" stroke="#f60000" stroke-width="1.0" stroke-linejoin="round" opacity="1"/>
<polyline points="394.5,390.8 428.52,354.03 462.54,358.83 496.56,348.17 530.58,321.53 564.6,294.89 598.62,299.68 632.64,321.53 666.66,305.01" fill="none" stroke="#111" stroke-width="1.0" stroke-linejoin="round" opacity="1"/>
<path d="M394.5,340.98V344.71M392.7,340.98h3.6M392.7,344.71h3.6" stroke="#f60000" stroke-width="0.9" fill="none" opacity="1"/>
<rect x="393.4" y="341.74" width="2.2" height="2.2" fill="#f60000"/>
<path d="M428.52,341.51V345.24M426.72,341.51h3.6M426.72,345.24h3.6" stroke="#f60000" stroke-width="0.9" fill="none" opacity="1"/>
<rect x="427.42" y="342.28" width="2.2" height="2.2" fill="#f60000"/>
<path d="M462.54,346.31V350.04M460.74,346.31h3.6M460.74,350.04h3.6" stroke="#f60000" stroke-width="0.9" fill="none" opacity="1"/>
<rect x="461.44" y="347.07" width="2.2" height="2.2" fill="#f60000"/>
<path d="M496.56,335.65V339.38M494.76,335.65h3.6M494.76,339.38h3.6" stroke="#f60000" stroke-width="0.9" fill="none" opacity="1"/>
<rect x="495.46" y="336.41" width="2.2" height="2.2" fill="#f60000"/>
<path d="M530.58,309.01V312.74M528.78,309.01h3.6M528.78,312.74h3.6" stroke="#f60000" stroke-width="0.9" fill="none" opacity="1"/>
<rect x="529.48" y="309.77" width="2.2" height="2.2" fill="#f60000"/>
<path d="M564.6,250.39V254.12M562.8,250.39h3.6M562.8,254.12h3.6" stroke="#f60000" stroke-width="0.9" fill="none" opacity="1"/>
<rect x="563.5" y="251.16" width="2.2" height="2.2" fill="#f60000"/>
<path d="M598.62,277.04V280.76M596.82,277.04h3.6M596.82,280.76h3.6" stroke="#f60000" stroke-width="0.9" fill="none" opacity="1"/>
<rect x="597.52" y="277.8" width="2.2" height="2.2" fill="#f60000"/>
<path d="M632.64,292.49V296.22M630.84,292.49h3.6M630.84,296.22h3.6" stroke="#f60000" stroke-width="0.9" fill="none" opacity="1"/>
<rect x="631.54" y="293.25" width="2.2" height="2.2" fill="#f60000"/>
<path d="M666.66,296.22V299.95M664.86,296.22h3.6M664.86,299.95h3.6" stroke="#f60000" stroke-width="0.9" fill="none" opacity="1"/>
<rect x="665.56" y="296.98" width="2.2" height="2.2" fill="#f60000"/>
<path d="M394.5,388.94V392.66M392.7,388.94h3.6M392.7,392.66h3.6" stroke="#111" stroke-width="0.9" fill="none" opacity="1"/>
<rect x="393.4" y="389.7" width="2.2" height="2.2" fill="#111"/>
<path d="M428.52,352.17V355.9M426.72,352.17h3.6M426.72,355.9h3.6" stroke="#111" stroke-width="0.9" fill="none" opacity="1"/>
<rect x="427.42" y="352.93" width="2.2" height="2.2" fill="#111"/>
<path d="M462.54,356.96V360.69M460.74,356.96h3.6M460.74,360.69h3.6" stroke="#111" stroke-width="0.9" fill="none" opacity="1"/>
<rect x="461.44" y="357.73" width="2.2" height="2.2" fill="#111"/>
<path d="M496.56,346.31V350.04M494.76,346.31h3.6M494.76,350.04h3.6" stroke="#111" stroke-width="0.9" fill="none" opacity="1"/>
<rect x="495.46" y="347.07" width="2.2" height="2.2" fill="#111"/>
<path d="M530.58,319.66V323.39M528.78,319.66h3.6M528.78,323.39h3.6" stroke="#111" stroke-width="0.9" fill="none" opacity="1"/>
<rect x="529.48" y="320.43" width="2.2" height="2.2" fill="#111"/>
<path d="M564.6,293.02V296.75M562.8,293.02h3.6M562.8,296.75h3.6" stroke="#111" stroke-width="0.9" fill="none" opacity="1"/>
<rect x="563.5" y="293.79" width="2.2" height="2.2" fill="#111"/>
<path d="M598.62,297.82V301.55M596.82,297.82h3.6M596.82,301.55h3.6" stroke="#111" stroke-width="0.9" fill="none" opacity="1"/>
<rect x="597.52" y="298.58" width="2.2" height="2.2" fill="#111"/>
<path d="M632.64,319.66V323.39M630.84,319.66h3.6M630.84,323.39h3.6" stroke="#111" stroke-width="0.9" fill="none" opacity="1"/>
<rect x="631.54" y="320.43" width="2.2" height="2.2" fill="#111"/>
<path d="M666.66,303.15V306.88M664.86,303.15h3.6M664.86,306.88h3.6" stroke="#111" stroke-width="0.9" fill="none" opacity="1"/>
<rect x="665.56" y="303.91" width="2.2" height="2.2" fill="#111"/>
<line x1="402.9" y1="252.6" x2="419.5" y2="252.6" stroke="#f60000" stroke-width="1"/>
<rect x="410.1" y="251.5" width="2.2" height="2.2" fill="#f60000"/>
<line x1="402.9" y1="264.5" x2="419.5" y2="264.5" stroke="#111" stroke-width="1"/>
<rect x="410.1" y="263.4" width="2.2" height="2.2" fill="#111"/>
</g>
<defs><filter id="tx" x="0" y="0" width="1" height="1" color-interpolation-filters="sRGB"><feConvolveMatrix order="3" kernelMatrix="0.0016 0.0368 0.0016 0.0368 0.8464 0.0368 0.0016 0.0368 0.0016" divisor="1" edgeMode="none"/></filter></defs>
<g filter="url(#tx)">
<text x="36.9" y="206" font-size="8.8" text-anchor="end" >80</text>
<text x="36.9" y="181.4" font-size="8.8" text-anchor="end" >82</text>
<text x="36.9" y="156.8" font-size="8.8" text-anchor="end" >84</text>
<text x="36.9" y="132.2" font-size="8.8" text-anchor="end" >86</text>
<text x="36.9" y="107.6" font-size="8.8" text-anchor="end" >88</text>
<text x="36.9" y="83" font-size="8.8" text-anchor="end" >90</text>
<text x="36.9" y="58.4" font-size="8.8" text-anchor="end" >92</text>
<text x="36.9" y="33.8" font-size="8.8" text-anchor="end" >94</text>
<text x="62.47" y="212.9" font-size="8.8" text-anchor="middle" >0.0</text>
<text x="105.21" y="212.9" font-size="8.8" text-anchor="middle" >0.5</text>
<text x="147.96" y="212.9" font-size="8.8" text-anchor="middle" >1.0</text>
<text x="190.7" y="212.9" font-size="8.8" text-anchor="middle" >1.5</text>
<text x="233.44" y="212.9" font-size="8.8" text-anchor="middle" >2.0</text>
<text x="276.19" y="212.9" font-size="8.8" text-anchor="middle" >2.5</text>
<text x="318.93" y="212.9" font-size="8.8" text-anchor="middle" >3.0</text>
<text x="190.6" y="222.8" font-size="10.6" text-anchor="middle" >Content (%)</text>
<text transform="translate(21.4,110.0) rotate(-90)" font-size="9.7" text-anchor="middle">Hardness (HV)</text>
<text x="100.6" y="32.7" font-size="11.6" text-anchor="middle" >Foundry</text>
<text x="99.7" y="44.8" font-size="11.5" text-anchor="middle" >No Heat Treatment</text>
<text x="-0.1" y="13.3" font-size="18.2" text-anchor="start" >(a)</text>
<text x="283.5" y="141.8" font-size="8.5">BN<tspan font-size="5.8" dy="2.2">1</tspan><tspan dy="-2.2" dx="1.8"> (nm)</tspan></text>
<text x="283.5" y="155.2" font-size="8.5">BN<tspan font-size="5.8" dy="2.2">2</tspan><tspan dy="-2.2" dx="1.8"> (μm)</tspan></text>
<text x="376.1" y="207" font-size="8.2" text-anchor="end" >100</text>
<text x="376.1" y="186.29" font-size="8.2" text-anchor="end" >105</text>
<text x="376.1" y="165.58" font-size="8.2" text-anchor="end" >110</text>
<text x="376.1" y="144.87" font-size="8.2" text-anchor="end" >115</text>
<text x="376.1" y="124.16" font-size="8.2" text-anchor="end" >120</text>
<text x="376.1" y="103.44" font-size="8.2" text-anchor="end" >125</text>
<text x="376.1" y="82.73" font-size="8.2" text-anchor="end" >130</text>
<text x="376.1" y="62.02" font-size="8.2" text-anchor="end" >135</text>
<text x="376.1" y="41.31" font-size="8.2" text-anchor="end" >140</text>
<text x="376.1" y="20.6" font-size="8.2" text-anchor="end" >145</text>
<text x="398.2" y="215.2" font-size="8.2" text-anchor="middle" >0.0</text>
<text x="433.4" y="215.2" font-size="8.2" text-anchor="middle" >0.5</text>
<text x="468.6" y="215.2" font-size="8.2" text-anchor="middle" >1.0</text>
<text x="503.8" y="215.2" font-size="8.2" text-anchor="middle" >1.5</text>
<text x="539" y="215.2" font-size="8.2" text-anchor="middle" >2.0</text>
<text x="574.2" y="215.2" font-size="8.2" text-anchor="middle" >2.5</text>
<text x="609.4" y="215.2" font-size="8.2" text-anchor="middle" >3.0</text>
<text x="644.6" y="215.2" font-size="8.2" text-anchor="middle" >3.5</text>
<text x="679.8" y="215.2" font-size="8.2" text-anchor="middle" >4.0</text>
<text transform="translate(360.4,111) rotate(-90)" font-size="10.6" text-anchor="middle">Hardness (HV)</text>
<text x="530.6" y="231.4" font-size="10.6" text-anchor="middle" >content (%)</text>
<text x="426.4" y="33.2" font-size="8.9" text-anchor="middle" >Foundry</text>
<text x="426.4" y="44" font-size="8.9" text-anchor="middle" >Heat Treatment</text>
<text x="626.4" y="60.1" font-size="9.3">BN<tspan font-size="6.8" dy="2.2">1</tspan><tspan dy="-2.2">(nm)</tspan></text>
<text x="639.1" y="72" font-size="8">A<tspan font-size="5.8" dy="1.9">1</tspan><tspan dy="-1.9">B</tspan><tspan font-size="5.8" dy="1.9">1</tspan><tspan dy="-1.9">C</tspan><tspan font-size="5.8" dy="1.9">1</tspan><tspan dy="-1.9">D</tspan><tspan font-size="5.8" dy="1.9">1</tspan></text>
<text x="639.1" y="83.44" font-size="8">A<tspan font-size="5.8" dy="1.9">1</tspan><tspan dy="-1.9">B</tspan><tspan font-size="5.8" dy="1.9">2</tspan><tspan dy="-1.9">C</tspan><tspan font-size="5.8" dy="1.9">2</tspan><tspan dy="-1.9">D</tspan><tspan font-size="5.8" dy="1.9">2</tspan></text>
<text x="639.1" y="94.88" font-size="8">A<tspan font-size="5.8" dy="1.9">1</tspan><tspan dy="-1.9">B</tspan><tspan font-size="5.8" dy="1.9">3</tspan><tspan dy="-1.9">C</tspan><tspan font-size="5.8" dy="1.9">3</tspan><tspan dy="-1.9">D</tspan><tspan font-size="5.8" dy="1.9">3</tspan></text>
<text x="639.1" y="106.32" font-size="8">A<tspan font-size="5.8" dy="1.9">2</tspan><tspan dy="-1.9">B</tspan><tspan font-size="5.8" dy="1.9">1</tspan><tspan dy="-1.9">C</tspan><tspan font-size="5.8" dy="1.9">2</tspan><tspan dy="-1.9">D</tspan><tspan font-size="5.8" dy="1.9">3</tspan></text>
<text x="639.1" y="117.76" font-size="8">A<tspan font-size="5.8" dy="1.9">2</tspan><tspan dy="-1.9">B</tspan><tspan font-size="5.8" dy="1.9">2</tspan><tspan dy="-1.9">C</tspan><tspan font-size="5.8" dy="1.9">3</tspan><tspan dy="-1.9">D</tspan><tspan font-size="5.8" dy="1.9">1</tspan></text>
<text x="639.1" y="129.2" font-size="8">A<tspan font-size="5.8" dy="1.9">2</tspan><tspan dy="-1.9">B</tspan><tspan font-size="5.8" dy="1.9">3</tspan><tspan dy="-1.9">C</tspan><tspan font-size="5.8" dy="1.9">1</tspan><tspan dy="-1.9">D</tspan><tspan font-size="5.8" dy="1.9">2</tspan></text>
<text x="639.1" y="140.64" font-size="8">A<tspan font-size="5.8" dy="1.9">3</tspan><tspan dy="-1.9">B</tspan><tspan font-size="5.8" dy="1.9">1</tspan><tspan dy="-1.9">C</tspan><tspan font-size="5.8" dy="1.9">3</tspan><tspan dy="-1.9">D</tspan><tspan font-size="5.8" dy="1.9">2</tspan></text>
<text x="639.1" y="152.08" font-size="8">A<tspan font-size="5.8" dy="1.9">3</tspan><tspan dy="-1.9">B</tspan><tspan font-size="5.8" dy="1.9">2</tspan><tspan dy="-1.9">C</tspan><tspan font-size="5.8" dy="1.9">1</tspan><tspan dy="-1.9">D</tspan><tspan font-size="5.8" dy="1.9">3</tspan></text>
<text x="639.1" y="163.52" font-size="8">A<tspan font-size="5.8" dy="1.9">3</tspan><tspan dy="-1.9">B</tspan><tspan font-size="5.8" dy="1.9">3</tspan><tspan dy="-1.9">C</tspan><tspan font-size="5.8" dy="1.9">2</tspan><tspan dy="-1.9">D</tspan><tspan font-size="5.8" dy="1.9">1</tspan></text>
<text x="344.3" y="13.6" font-size="18.2" text-anchor="start" >(b)</text>
<text clip-path="url(#cc)" x="39.1" y="431.3" font-size="8.2" text-anchor="end" >100</text>
<text clip-path="url(#cc)" x="39.1" y="410.56" font-size="8.2" text-anchor="end" >105</text>
<text clip-path="url(#cc)" x="39.1" y="389.81" font-size="8.2" text-anchor="end" >110</text>
<text clip-path="url(#cc)" x="39.1" y="369.07" font-size="8.2" text-anchor="end" >115</text>
<text clip-path="url(#cc)" x="39.1" y="348.32" font-size="8.2" text-anchor="end" >120</text>
<text clip-path="url(#cc)" x="39.1" y="327.58" font-size="8.2" text-anchor="end" >125</text>
<text clip-path="url(#cc)" x="39.1" y="306.83" font-size="8.2" text-anchor="end" >130</text>
<text clip-path="url(#cc)" x="39.1" y="286.09" font-size="8.2" text-anchor="end" >135</text>
<text clip-path="url(#cc)" x="39.1" y="265.34" font-size="8.2" text-anchor="end" >140</text>
<text clip-path="url(#cc)" x="39.1" y="244.6" font-size="8.2" text-anchor="end" >145</text>
<text clip-path="url(#cc)" x="61.21" y="439" font-size="8.2" text-anchor="middle" >0.0</text>
<text clip-path="url(#cc)" x="96.42" y="439" font-size="8.2" text-anchor="middle" >0.5</text>
<text clip-path="url(#cc)" x="131.63" y="439" font-size="8.2" text-anchor="middle" >1.0</text>
<text clip-path="url(#cc)" x="166.84" y="439" font-size="8.2" text-anchor="middle" >1.5</text>
<text clip-path="url(#cc)" x="202.05" y="439" font-size="8.2" text-anchor="middle" >2.0</text>
<text clip-path="url(#cc)" x="237.26" y="439" font-size="8.2" text-anchor="middle" >2.5</text>
<text clip-path="url(#cc)" x="272.48" y="439" font-size="8.2" text-anchor="middle" >3.0</text>
<text clip-path="url(#cc)" x="307.69" y="439" font-size="8.2" text-anchor="middle" >3.5</text>
<text clip-path="url(#cc)" x="342.9" y="439" font-size="8.2" text-anchor="middle" >4.0</text>
<text clip-path="url(#cc)" transform="translate(21.8,335.2) rotate(-90)" font-size="10.6" text-anchor="middle">Hardness (HV)</text>
<text clip-path="url(#cc)" x="193.3" y="454.9" font-size="10.6" text-anchor="middle" >content (%)</text>
<text clip-path="url(#cc)" x="89.4" y="257.4" font-size="8.9" text-anchor="middle" >Foundry</text>
<text clip-path="url(#cc)" x="89.4" y="268.2" font-size="8.9" text-anchor="middle" >Heat Treatment</text>
<text clip-path="url(#cc)" x="289.6" y="284.3" font-size="9.3">BN<tspan font-size="6.8" dy="2.2">2</tspan><tspan dy="-2.2">(μm)</tspan></text>
<text clip-path="url(#cc)" x="302.3" y="296.2" font-size="8">A<tspan font-size="5.8" dy="1.9">1</tspan><tspan dy="-1.9">B</tspan><tspan font-size="5.8" dy="1.9">1</tspan><tspan dy="-1.9">C</tspan><tspan font-size="5.8" dy="1.9">1</tspan><tspan dy="-1.9">D</tspan><tspan font-size="5.8" dy="1.9">1</tspan></text>
<text clip-path="url(#cc)" x="302.3" y="307.7" font-size="8">A<tspan font-size="5.8" dy="1.9">1</tspan><tspan dy="-1.9">B</tspan><tspan font-size="5.8" dy="1.9">2</tspan><tspan dy="-1.9">C</tspan><tspan font-size="5.8" dy="1.9">2</tspan><tspan dy="-1.9">D</tspan><tspan font-size="5.8" dy="1.9">2</tspan></text>
<text clip-path="url(#cc)" x="302.3" y="319.2" font-size="8">A<tspan font-size="5.8" dy="1.9">1</tspan><tspan dy="-1.9">B</tspan><tspan font-size="5.8" dy="1.9">3</tspan><tspan dy="-1.9">C</tspan><tspan font-size="5.8" dy="1.9">3</tspan><tspan dy="-1.9">D</tspan><tspan font-size="5.8" dy="1.9">3</tspan></text>
<text clip-path="url(#cc)" x="302.3" y="330.7" font-size="8">A<tspan font-size="5.8" dy="1.9">2</tspan><tspan dy="-1.9">B</tspan><tspan font-size="5.8" dy="1.9">1</tspan><tspan dy="-1.9">C</tspan><tspan font-size="5.8" dy="1.9">2</tspan><tspan dy="-1.9">D</tspan><tspan font-size="5.8" dy="1.9">3</tspan></text>
<text clip-path="url(#cc)" x="302.3" y="342.2" font-size="8">A<tspan font-size="5.8" dy="1.9">2</tspan><tspan dy="-1.9">B</tspan><tspan font-size="5.8" dy="1.9">2</tspan><tspan dy="-1.9">C</tspan><tspan font-size="5.8" dy="1.9">3</tspan><tspan dy="-1.9">D</tspan><tspan font-size="5.8" dy="1.9">1</tspan></text>
<text clip-path="url(#cc)" x="302.3" y="353.7" font-size="8">A<tspan font-size="5.8" dy="1.9">2</tspan><tspan dy="-1.9">B</tspan><tspan font-size="5.8" dy="1.9">3</tspan><tspan dy="-1.9">C</tspan><tspan font-size="5.8" dy="1.9">1</tspan><tspan dy="-1.9">D</tspan><tspan font-size="5.8" dy="1.9">2</tspan></text>
<text clip-path="url(#cc)" x="302.3" y="365.2" font-size="8">A<tspan font-size="5.8" dy="1.9">3</tspan><tspan dy="-1.9">B</tspan><tspan font-size="5.8" dy="1.9">1</tspan><tspan dy="-1.9">C</tspan><tspan font-size="5.8" dy="1.9">3</tspan><tspan dy="-1.9">D</tspan><tspan font-size="5.8" dy="1.9">2</tspan></text>
<text clip-path="url(#cc)" x="302.3" y="376.7" font-size="8">A<tspan font-size="5.8" dy="1.9">3</tspan><tspan dy="-1.9">B</tspan><tspan font-size="5.8" dy="1.9">2</tspan><tspan dy="-1.9">C</tspan><tspan font-size="5.8" dy="1.9">1</tspan><tspan dy="-1.9">D</tspan><tspan font-size="5.8" dy="1.9">3</tspan></text>
<text clip-path="url(#cc)" x="302.3" y="388.2" font-size="8">A<tspan font-size="5.8" dy="1.9">3</tspan><tspan dy="-1.9">B</tspan><tspan font-size="5.8" dy="1.9">3</tspan><tspan dy="-1.9">C</tspan><tspan font-size="5.8" dy="1.9">2</tspan><tspan dy="-1.9">D</tspan><tspan font-size="5.8" dy="1.9">1</tspan></text>
<text x="0.3" y="239.2" font-size="18.2" text-anchor="start" >(c)</text>
<text x="376.7" y="431.3" font-size="8.2" text-anchor="end" >110</text>
<text x="376.7" y="404.66" font-size="8.2" text-anchor="end" >115</text>
<text x="376.7" y="378.01" font-size="8.2" text-anchor="end" >120</text>
<text x="376.7" y="351.37" font-size="8.2" text-anchor="end" >125</text>
<text x="376.7" y="324.73" font-size="8.2" text-anchor="end" >130</text>
<text x="376.7" y="298.09" font-size="8.2" text-anchor="end" >135</text>
<text x="376.7" y="271.44" font-size="8.2" text-anchor="end" >140</text>
<text x="376.7" y="244.8" font-size="8.2" text-anchor="end" >145</text>
<text transform="translate(361.0,334.9) rotate(-90)" font-size="10.5" text-anchor="middle">Hardness (HV)</text>
<text x="530.7" y="457" font-size="10.4" text-anchor="middle" >Heat Treatment</text>
<text x="344.3" y="238.8" font-size="18.2" text-anchor="start" >(d)</text>
<text transform="translate(394.7,441.2) rotate(-18.5)" font-size="9.6" text-anchor="middle">A<tspan font-size="5.0" dy="2.3">1</tspan><tspan dy="-2.3">B</tspan><tspan font-size="5.0" dy="2.3">1</tspan><tspan dy="-2.3">C</tspan><tspan font-size="5.0" dy="2.3">1</tspan><tspan dy="-2.3">D</tspan><tspan font-size="5.0" dy="2.3">1</tspan></text>
<text transform="translate(428.72,441.2) rotate(-18.5)" font-size="9.6" text-anchor="middle">A<tspan font-size="5.0" dy="2.3">1</tspan><tspan dy="-2.3">B</tspan><tspan font-size="5.0" dy="2.3">2</tspan><tspan dy="-2.3">C</tspan><tspan font-size="5.0" dy="2.3">2</tspan><tspan dy="-2.3">D</tspan><tspan font-size="5.0" dy="2.3">2</tspan></text>
<text transform="translate(462.74,441.2) rotate(-18.5)" font-size="9.6" text-anchor="middle">A<tspan font-size="5.0" dy="2.3">1</tspan><tspan dy="-2.3">B</tspan><tspan font-size="5.0" dy="2.3">3</tspan><tspan dy="-2.3">C</tspan><tspan font-size="5.0" dy="2.3">3</tspan><tspan dy="-2.3">D</tspan><tspan font-size="5.0" dy="2.3">3</tspan></text>
<text transform="translate(496.76,441.2) rotate(-18.5)" font-size="9.6" text-anchor="middle">A<tspan font-size="5.0" dy="2.3">2</tspan><tspan dy="-2.3">B</tspan><tspan font-size="5.0" dy="2.3">1</tspan><tspan dy="-2.3">C</tspan><tspan font-size="5.0" dy="2.3">2</tspan><tspan dy="-2.3">D</tspan><tspan font-size="5.0" dy="2.3">3</tspan></text>
<text transform="translate(530.78,441.2) rotate(-18.5)" font-size="9.6" text-anchor="middle">A<tspan font-size="5.0" dy="2.3">2</tspan><tspan dy="-2.3">B</tspan><tspan font-size="5.0" dy="2.3">2</tspan><tspan dy="-2.3">C</tspan><tspan font-size="5.0" dy="2.3">3</tspan><tspan dy="-2.3">D</tspan><tspan font-size="5.0" dy="2.3">1</tspan></text>
<text transform="translate(564.8,441.2) rotate(-18.5)" font-size="9.6" text-anchor="middle">A<tspan font-size="5.0" dy="2.3">2</tspan><tspan dy="-2.3">B</tspan><tspan font-size="5.0" dy="2.3">3</tspan><tspan dy="-2.3">C</tspan><tspan font-size="5.0" dy="2.3">1</tspan><tspan dy="-2.3">D</tspan><tspan font-size="5.0" dy="2.3">2</tspan></text>
<text transform="translate(598.82,441.2) rotate(-18.5)" font-size="9.6" text-anchor="middle">A<tspan font-size="5.0" dy="2.3">3</tspan><tspan dy="-2.3">B</tspan><tspan font-size="5.0" dy="2.3">1</tspan><tspan dy="-2.3">C</tspan><tspan font-size="5.0" dy="2.3">3</tspan><tspan dy="-2.3">D</tspan><tspan font-size="5.0" dy="2.3">2</tspan></text>
<text transform="translate(632.84,441.2) rotate(-18.5)" font-size="9.6" text-anchor="middle">A<tspan font-size="5.0" dy="2.3">3</tspan><tspan dy="-2.3">B</tspan><tspan font-size="5.0" dy="2.3">2</tspan><tspan dy="-2.3">C</tspan><tspan font-size="5.0" dy="2.3">1</tspan><tspan dy="-2.3">D</tspan><tspan font-size="5.0" dy="2.3">3</tspan></text>
<text transform="translate(666.86,441.2) rotate(-18.5)" font-size="9.6" text-anchor="middle">A<tspan font-size="5.0" dy="2.3">3</tspan><tspan dy="-2.3">B</tspan><tspan font-size="5.0" dy="2.3">3</tspan><tspan dy="-2.3">C</tspan><tspan font-size="5.0" dy="2.3">2</tspan><tspan dy="-2.3">D</tspan><tspan font-size="5.0" dy="2.3">1</tspan></text>
<text x="421.6" y="255.8" font-size="8.2">2%:<tspan dx="4"> </tspan>BN<tspan font-size="5.6" dy="2">1</tspan><tspan dy="-2"> (nm)</tspan></text>
<text x="421.6" y="267.7" font-size="8.2">2%:<tspan dx="4"> </tspan>BN<tspan font-size="5.6" dy="2">2</tspan><tspan dy="-2"> (μm)</tspan></text>
</g></svg></body></html>
